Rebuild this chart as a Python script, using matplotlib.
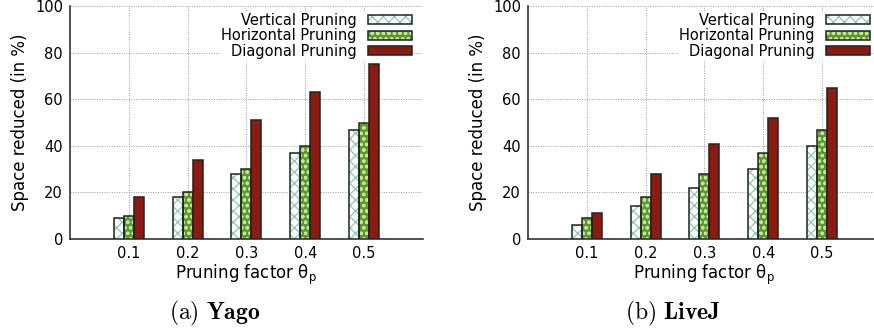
import numpy as np
import matplotlib.pyplot as plt
import matplotlib.patches as mpatches
from matplotlib.legend_handler import HandlerTuple

plt.rcParams['font.family'] = 'DejaVu Sans'
plt.rcParams['font.size'] = 10.5
plt.rcParams['mathtext.fontset'] = 'cm'
plt.rcParams['hatch.linewidth'] = 0.9

# data
factors = ['0.1', '0.2', '0.3', '0.4', '0.5']
series = ['Vertical Pruning', 'Horizontal Pruning', 'Diagonal Pruning']

yago_vertical = [9, 18, 28, 37, 47]
yago_horizontal = [10, 20, 30, 40, 50]
yago_diagonal = [18, 34, 51, 63, 75]

livej_vertical = [6, 14, 22, 30, 40]
livej_horizontal = [9, 18, 28, 37, 47]
livej_diagonal = [11, 28, 41, 52, 65]

captions = [r'$\mathrm{(a)}\ \mathbf{Yago}$', r'$\mathrm{(b)}\ \mathbf{LiveJ}$']

# (face, hatch, hatch colour)
styles = [('white', 'xxx', '#86ccb2'),
          ('#5a9a2c', 'ooo', '#c5e59c'),
          ('#8b1a10', None, None)]


def panel(ax, values):
    x = np.arange(1, len(factors) + 1)
    w = 0.17
    handles = []
    for i, (vals, (face, hatch, hcol)) in enumerate(zip(values, styles)):
        pos = x + (i - 1) * w
        if hatch:
            ax.bar(pos, vals, w, color=face, edgecolor=hcol, hatch=hatch, linewidth=0.1, zorder=3)
        else:
            ax.bar(pos, vals, w, color=face, linewidth=0, zorder=3)
        ax.bar(pos, vals, w, color='none', edgecolor='#222222', linewidth=1.1, zorder=4)
        # legend proxy: hatched fill + black outline on top of each other
        fill = mpatches.Patch(facecolor=face, edgecolor=hcol if hatch else face,
                              hatch=hatch, linewidth=0.1)
        edge = mpatches.Patch(facecolor='none', edgecolor='#222222', linewidth=1.1)
        handles.append((fill, edge))

    ax.set_xlim(0, 6)
    ax.set_ylim(0, 100)
    ax.set_xticks(x)
    ax.set_xticklabels(factors)
    ax.set_yticks(range(0, 101, 20))
    ax.tick_params(length=0, pad=5)
    ax.grid(True, color='#999999', linestyle=(0, (1, 1.5)), linewidth=0.7, zorder=0)
    for s in ['top', 'right']:
        ax.spines[s].set_visible(False)
    for s in ['left', 'bottom']:
        ax.spines[s].set_color('#333333')
        ax.spines[s].set_linewidth(1.2)
    ax.set_xlabel(r'Pruning factor $\mathregular{\theta_p}$', fontsize=12, labelpad=1)
    ax.set_ylabel('Space reduced (in %)', fontsize=12, labelpad=4)
    leg = ax.legend(handles=handles, labels=series,
                    handler_map={tuple: HandlerTuple(ndivide=1, pad=0)},
                    loc='upper right', bbox_to_anchor=(0.97, 0.975),
                    markerfirst=False, fontsize=10.5,
                    frameon=True, fancybox=False, framealpha=1, edgecolor='white',
                    handlelength=3.0, handleheight=0.55, labelspacing=0.05,
                    borderpad=0.05, borderaxespad=0.0, handletextpad=0.8)
    leg.set_zorder(5)


fig = plt.figure(figsize=(8.74, 3.33), dpi=100)
ax1 = fig.add_axes([0.080, 0.282, 0.404, 0.700])
ax2 = fig.add_axes([0.604, 0.282, 0.404, 0.700])

panel(ax1, [yago_vertical, yago_horizontal, yago_diagonal])
panel(ax2, [livej_vertical, livej_horizontal, livej_diagonal])

fig.text(215 / 874, 1 - 313 / 333, captions[0], ha='center', va='center', fontsize=17)
fig.text(673 / 874, 1 - 313 / 333, captions[1], ha='center', va='center', fontsize=17)

fig.savefig('out.png', dpi=100)
